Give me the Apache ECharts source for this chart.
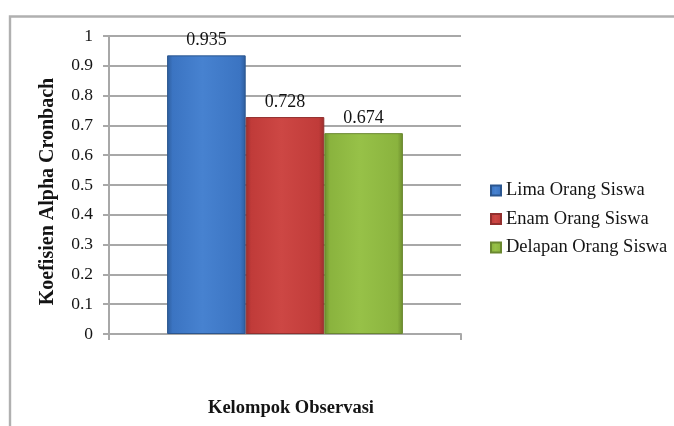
<!DOCTYPE html>
<html>
<head>
<meta charset="utf-8">
<script src="https://cdn.jsdelivr.net/npm/echarts@6/dist/echarts.min.js"></script>
<style>
  html, body { margin: 0; padding: 0; background: #fff; overflow: hidden; }
  #chart { width: 674px; height: 426px; }
</style>
</head>
<body>
<div id="chart"></div>
<script>
// Reliability coefficients per observation group size
const categories = ['Kelompok Observasi'];
const seriesNames = ['Lima Orang Siswa', 'Enam Orang Siswa', 'Delapan Orang Siswa'];
const limaValues = [0.935];
const enamValues = [0.728];
const delapanValues = [0.674];
const yTicks = [0, 0.1, 0.2, 0.3, 0.4, 0.5, 0.6, 0.7, 0.8, 0.9, 1];
const xTitle = 'Kelompok Observasi';
const yTitle = 'Koefisien Alpha Cronbach';

const FONT = '"Liberation Serif", "Times New Roman", serif';
const INK = '#141414';
const RULE = '#a8a8a8';

function bevel(dark, mid, light) {
  return new echarts.graphic.LinearGradient(0, 0, 1, 0, [
    { offset: 0, color: dark },
    { offset: 0.07, color: mid },
    { offset: 0.45, color: light },
    { offset: 0.93, color: mid },
    { offset: 1, color: dark }
  ]);
}

const palette = [
  { fill: bevel('#2e5d9c', '#3b74c2', '#4782d0'), border: '#2b568f' },
  { fill: bevel('#9c2e2d', '#c03b39', '#cd4744'), border: '#922f2e' },
  { fill: bevel('#6c8c2d', '#8ab33e', '#97c148'), border: '#6a8830' }
];

const valueSets = [limaValues, enamValues, delapanValues];

const chart = echarts.init(document.getElementById('chart'), null, { renderer: 'canvas' });

chart.setOption({
  animation: false,
  backgroundColor: '#fff',
  textStyle: { fontFamily: FONT },
  graphic: [
    {
      type: 'rect',
      shape: { x: 10, y: 16.5, width: 700, height: 440 },
      style: { fill: 'none', stroke: '#b0b0b0', lineWidth: 2.4 },
      silent: true
    },
    {
      type: 'text',
      x: 48, y: 191.5,
      rotation: Math.PI / 2,
      style: {
        text: yTitle, fontFamily: FONT, fontSize: 20, fontWeight: 'bold',
        fill: INK, align: 'center', verticalAlign: 'middle'
      },
      silent: true
    },
    {
      type: 'text',
      x: 291, y: 408,
      style: {
        text: xTitle, fontFamily: FONT, fontSize: 18.5, fontWeight: 'bold',
        fill: INK, align: 'center', verticalAlign: 'middle'
      },
      silent: true
    }
  ],
  grid: { left: 109, right: 213, top: 36, bottom: 92 },
  legend: {
    orient: 'vertical',
    left: 490,
    top: 181,
    padding: 0,
    itemWidth: 10,
    itemHeight: 10,
    itemGap: 9.5,
    icon: 'rect',
    textStyle: { fontFamily: FONT, fontSize: 18.5, color: INK },
    data: seriesNames
  },
  xAxis: {
    type: 'category',
    data: categories,
    axisLine: { lineStyle: { color: RULE, width: 2 } },
    axisTick: { show: true, length: 6, lineStyle: { color: RULE, width: 2 } },
    axisLabel: { show: false }
  },
  yAxis: {
    type: 'value',
    min: 0,
    max: 1,
    interval: 0.1,
    axisLine: { show: true, lineStyle: { color: RULE, width: 2 } },
    axisTick: { show: true, length: 6, lineStyle: { color: RULE, width: 2 } },
    axisLabel: {
      fontFamily: FONT, fontSize: 17.5, color: INK, margin: 16,
      formatter: v => {
        const t = yTicks.find(x => Math.abs(x - v) < 1e-9);
        return t === undefined ? '' : String(t);
      }
    },
    splitLine: { lineStyle: { color: RULE, width: 2 } }
  },
  series: seriesNames.map((name, i) => ({
    name: name,
    type: 'bar',
    data: valueSets[i],
    barGap: '0%',
    barCategoryGap: '33%',
    itemStyle: {
      color: palette[i].fill,
      borderColor: palette[i].border,
      borderWidth: 1
    },
    label: {
      show: true,
      position: 'top',
      distance: 6,
      fontFamily: FONT,
      fontSize: 18,
      color: INK,
      formatter: p => p.value.toFixed(3)
    }
  }))
});
</script>
</body>
</html>
